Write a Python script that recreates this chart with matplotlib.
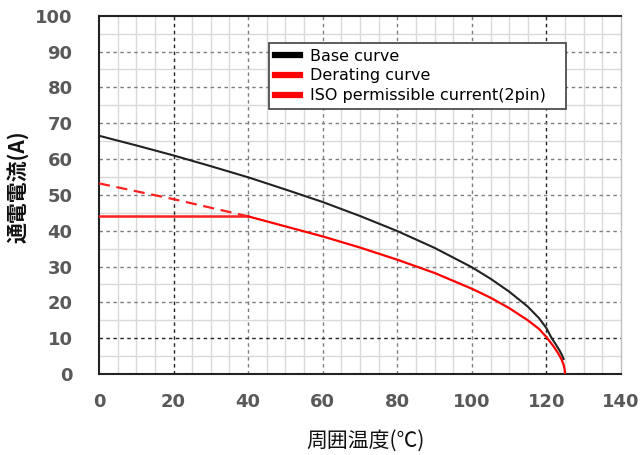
import matplotlib
matplotlib.use("Agg")
import matplotlib.pyplot as plt
from matplotlib.ticker import MultipleLocator
from matplotlib.lines import Line2D

plt.rcParams['font.family'] = ['DejaVu Sans', 'Noto Sans CJK JP']

# Base curve readings (temperature degC, current A)
base_t = [0, 10, 20, 30, 40, 50, 60, 70, 80, 90, 100, 105, 110, 115, 118, 120, 121.4, 122.5, 123.5, 124.2, 124.6]
base_i = [66.5, 63.8, 61.0, 58.0, 54.9, 51.5, 48.0, 44.1, 39.9, 35.2, 29.8, 26.6, 23.0, 18.8, 15.6, 12.8, 10.0, 8.3, 6.6, 5.2, 4.2]

# Derating curve: dashed part (below ISO limit region) and solid part
derate_dash_t = [0, 10, 20, 30, 40]
derate_dash_i = [53.2, 51.0, 48.8, 46.4, 44.0]
derate_t = [40, 50, 60, 70, 80, 90, 100, 105, 110, 115, 118, 120, 122, 123, 124, 124.6, 124.9, 125]
derate_i = [44.0, 41.2, 38.4, 35.3, 31.9, 28.2, 23.8, 21.3, 18.4, 15.0, 12.6, 10.3, 7.6, 6.0, 4.2, 2.6, 1.2, 0.0]

# ISO permissible current (2pin)
iso_t = [0, 40]
iso_i = [44.0, 44.0]

x_ticks = [0, 20, 40, 60, 80, 100, 120, 140]
y_ticks = [0, 10, 20, 30, 40, 50, 60, 70, 80, 90, 100]
legend_labels = ["Base curve", "Derating curve", "ISO permissible current(2pin)"]

fig = plt.figure(figsize=(6.44, 4.55), dpi=100)
ax = fig.add_axes([0.1537, 0.178, 0.8106, 0.7875])
ax.set_xlim(0, 140)
ax.set_ylim(0, 100)

# grid
ax.xaxis.set_minor_locator(MultipleLocator(5))
ax.yaxis.set_minor_locator(MultipleLocator(5))
ax.set_xticks(x_ticks)
ax.set_yticks(y_ticks)
ax.grid(which='minor', color='#d9d9d9', linewidth=1.0, linestyle='-')
for xv in x_ticks[1:-1]:
    c = '#222222' if xv in (20, 120) else '#7f7f7f'
    ax.axvline(xv, color=c, linewidth=1.0, linestyle=(0, (2.5, 2.5)), zorder=1)
for yv in y_ticks[1:-1]:
    c = '#222222' if yv == 10 else '#7f7f7f'
    ax.axhline(yv, color=c, linewidth=1.0, linestyle=(0, (2.5, 2.5)), zorder=1)
ax.set_axisbelow(True)

ax.plot(base_t, base_i, color='#222222', linewidth=1.5, zorder=3)
ax.plot(derate_dash_t, derate_dash_i, color='#ff2020', linewidth=1.6, linestyle=(0, (5, 3)), zorder=3)
ax.plot(derate_t, derate_i, color='#ff0000', linewidth=1.6, zorder=4)
ax.plot(iso_t, iso_i, color='#ff2020', linewidth=1.8, zorder=3)

# spines
for s in ['left', 'bottom', 'top']:
    ax.spines[s].set_color('#222222')
    ax.spines[s].set_linewidth(1.5)
ax.spines['right'].set_color('#bfbfbf')
ax.spines['right'].set_linewidth(1.0)

ax.tick_params(axis='both', which='both', length=0)
ax.tick_params(axis='x', pad=14)
ax.tick_params(axis='y', pad=19)
for lab in ax.get_xticklabels() + ax.get_yticklabels():
    lab.set_fontsize(13)
    lab.set_fontweight('bold')
    lab.set_color('#595959')

ax.set_ylabel('通電電流(A)', family=['Noto Sans CJK JP', 'DejaVu Sans'], fontsize=15, fontweight='bold', color='#111111')
ax.yaxis.set_label_coords(-0.134, 0.522)
ax.set_xlabel('周囲温度(℃)', family=['Noto Sans CJK JP', 'DejaVu Sans'], fontsize=15, color='#111111')
ax.xaxis.set_label_coords(0.5096, -0.155)

handles = [Line2D([], [], color='black', linewidth=4.5),
           Line2D([], [], color='red', linewidth=4.5),
           Line2D([], [], color='red', linewidth=4.5)]
leg = ax.legend(handles, legend_labels, loc='upper left', bbox_to_anchor=(0.326, 0.5, 0.569, 0.424),
                mode='expand', borderaxespad=0,
                fontsize=11.5, frameon=True, fancybox=False, edgecolor='#404040', framealpha=1,
                handlelength=1.6, handletextpad=0.6, labelspacing=0.3, borderpad=0.35)
leg.get_frame().set_linewidth(1.2)
leg.set_zorder(10)

fig.savefig('out.png', dpi=100)
